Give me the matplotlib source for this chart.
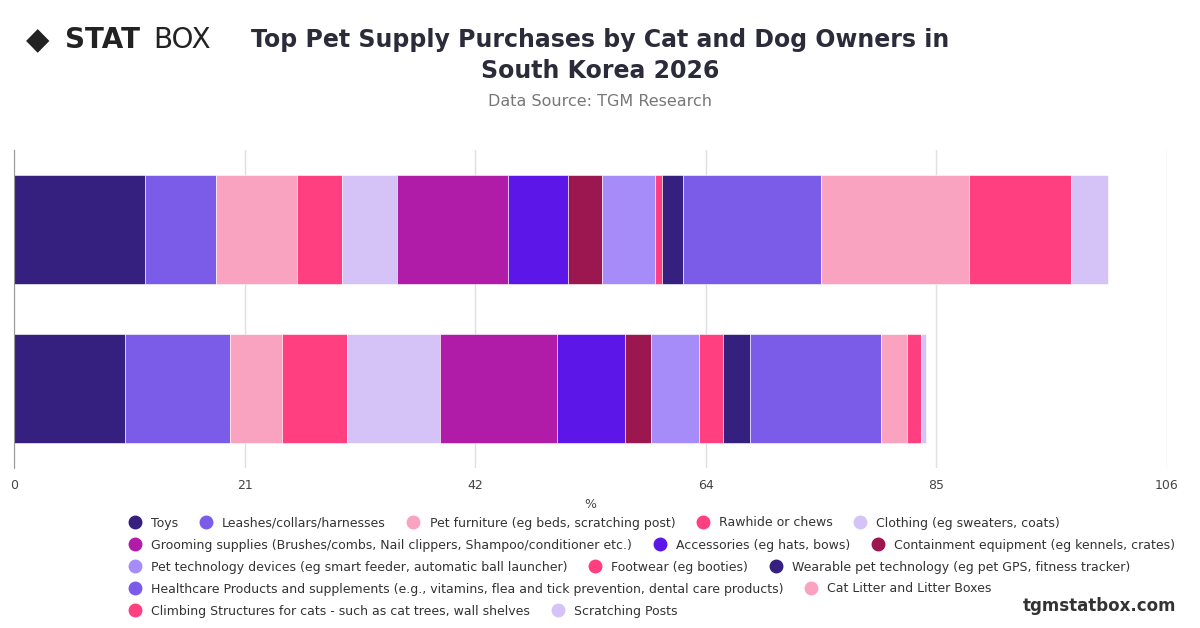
import matplotlib.pyplot as plt
from matplotlib.lines import Line2D

groups = ["Dog owners", "Cat owners"]
items = ["Toys", "Leashes/collars/harnesses", "Pet furniture (eg beds, scratching post)",
         "Rawhide or chews", "Clothing (eg sweaters, coats)",
         "Grooming supplies (Brushes/combs, Nail clippers, Shampoo/conditioner etc.)",
         "Accessories (eg hats, bows)", "Containment equipment (eg kennels, crates)",
         "Pet technology devices (eg smart feeder, automatic ball launcher)",
         "Footwear (eg booties)", "Wearable pet technology (eg pet GPS, fitness tracker)",
         "Healthcare Products and supplements (e.g., vitamins, flea and tick prevention, dental care products)",
         "Cat Litter and Litter Boxes", "Climbing Structures for cats - such as cat trees, wall shelves",
         "Scratching Posts"]
top_vals = [12.0, 6.6, 7.4, 4.2, 5.0, 10.2, 5.5, 3.2, 4.8, 0.7, 1.9, 12.7, 13.6, 9.4, 3.4]
bottom_vals = [10.2, 9.7, 4.7, 6.0, 8.6, 10.7, 6.3, 2.4, 4.4, 2.2, 2.5, 12.0, 2.4, 1.3, 0.4]
colors = ["#36207f", "#7b5ce9", "#f9a3c0", "#ff3f7f", "#d5c3f8", "#b01ca8", "#5c17e8",
          "#9c1650", "#a68cf8", "#ff3f7f", "#36207f", "#7b5ce9", "#f9a3c0", "#ff3f7f", "#d5c3f8"]
ticks = [0, 21.2, 42.4, 63.6, 84.8, 106]
tick_labels = ["0", "21", "42", "64", "85", "106"]

fig = plt.figure(figsize=(12, 6.28), dpi=100)
ax = fig.add_axes([14 / 1200, 1 - 468 / 628, 1153 / 1200, 318 / 628])
ypos = [1, 0]
left = [0, 0]
for i, name in enumerate(items):
    vals = [top_vals[i], bottom_vals[i]]
    ax.barh(ypos, vals, left=left, height=0.69, color=colors[i], edgecolor="white", linewidth=0.4)
    left = [left[0] + vals[0], left[1] + vals[1]]

ax.set_xlim(0, 106)
ax.set_ylim(-0.5, 1.5)
ax.set_xticks(ticks, tick_labels)
ax.set_yticks([])
ax.grid(axis="x", color="#e0e0e0", linewidth=1)
ax.set_axisbelow(True)
for s in ["top", "right", "bottom"]:
    ax.spines[s].set_visible(False)
ax.spines["left"].set_color("#999999")
ax.tick_params(axis="x", length=0, labelsize=9, colors="#444444", pad=8)
ax.set_xlabel("%", fontsize=9, color="#444444", labelpad=4)

fig.text(0.5, 0.912, "Top Pet Supply Purchases by Cat and Dog Owners in\nSouth Korea 2026",
         ha="center", va="center", fontsize=17, fontweight="bold", color="#2b2b3a", linespacing=1.35)
fig.text(0.5, 0.838, "Data Source: TGM Research", ha="center", va="center", fontsize=11.5, color="#777777")
fig.text(0.022, 0.936, "◆", fontsize=22, color="#222222", va="center")
fig.text(0.054, 0.936, "STAT", fontsize=20, fontweight="bold", color="#222222", va="center")
fig.text(0.128, 0.936, "BOX", fontsize=20, color="#222222", va="center")
fig.text(0.98, 0.035, "tgmstatbox.com", ha="right", va="center", fontsize=12, fontweight="bold", color="#333333")

rows = [[0, 1, 2, 3, 4], [5, 6, 7], [8, 9, 10], [11, 12], [13, 14]]
for r, row in enumerate(rows):
    handles = [Line2D([], [], marker="o", linestyle="", markersize=9, color=colors[i]) for i in row]
    leg = fig.legend(handles, [items[i] for i in row], ncol=len(row), loc="center left",
                     bbox_to_anchor=(0.102, 1 - (523 + 22 * r) / 628), frameon=False,
                     fontsize=9, handletextpad=0.3, columnspacing=1.2, borderaxespad=0, borderpad=0)
    for t in leg.get_texts():
        t.set_color("#333333")

fig.savefig("out.png", dpi=100)
